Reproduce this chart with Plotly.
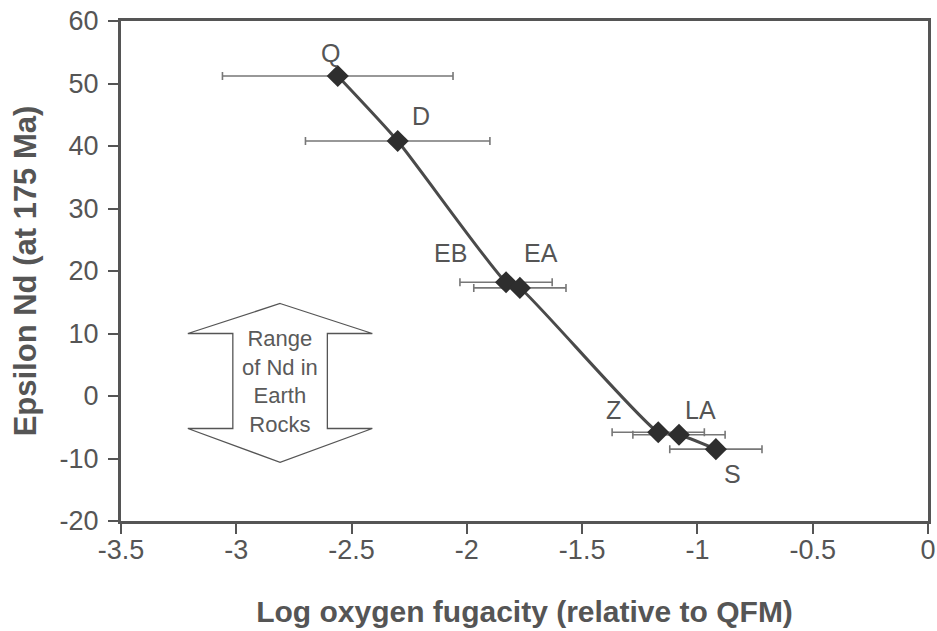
import plotly.graph_objects as go

# Data
labels = ["Q", "D", "EB", "EA", "Z", "LA", "S"]
log_fo2 = [-2.56, -2.30, -1.83, -1.77, -1.17, -1.08, -0.92]
eps_nd = [51.2, 40.8, 18.2, 17.3, -5.8, -6.2, -8.5]
x_err = [0.5, 0.4, 0.2, 0.2, 0.2, 0.2, 0.2]

label_dx = [-0.03, 0.10, -0.24, 0.09, -0.195, 0.095, 0.07]
label_dy = [3.7, 4.0, 4.7, 5.6, 3.5, 3.9, -3.9]

x_ticks = [-3.5, -3, -2.5, -2, -1.5, -1, -0.5, 0]
x_tick_text = ["-3.5", "-3", "-2.5", "-2", "-1.5", "-1", "-0.5", "0"]
y_ticks = [-20, -10, 0, 10, 20, 30, 40, 50, 60]
y_tick_text = ["-20", "-10", "0", "10", "20", "30", "40", "50", "60"]

# Double arrow geometry (data coords)
arrow_cx = -2.81
arrow_half_head = 0.40
arrow_half_body = 0.205
arrow_top, arrow_head_top_base = 14.8, 10.0
arrow_bottom, arrow_head_bot_base = -10.6, -5.2

text_col = "#555555"
FONT = "Liberation Sans, Arial"

fig = go.Figure()

fig.add_trace(go.Scatter(
    x=log_fo2, y=eps_nd, mode="lines",
    line=dict(color="#4a4a4a", width=3, shape="spline", smoothing=0.55),
    hoverinfo="skip", showlegend=False))

fig.add_trace(go.Scatter(
    x=log_fo2, y=eps_nd, mode="markers",
    marker=dict(symbol="diamond", size=17, color="#2e2e2e"),
    error_x=dict(type="data", array=x_err, visible=True, color="#777777",
                 thickness=1.6, width=4),
    showlegend=False))

for lab, x, y, dx, dy in zip(labels, log_fo2, eps_nd, label_dx, label_dy):
    fig.add_annotation(x=x + dx, y=y + dy, text=lab, showarrow=False,
                       font=dict(family=FONT, size=25, color=text_col))

c = arrow_cx
path = (f"M {c},{arrow_top} L {c+arrow_half_head},{arrow_head_top_base} "
        f"L {c+arrow_half_body},{arrow_head_top_base} L {c+arrow_half_body},{arrow_head_bot_base} "
        f"L {c+arrow_half_head},{arrow_head_bot_base} L {c},{arrow_bottom} "
        f"L {c-arrow_half_head},{arrow_head_bot_base} L {c-arrow_half_body},{arrow_head_bot_base} "
        f"L {c-arrow_half_body},{arrow_head_top_base} L {c-arrow_half_head},{arrow_head_top_base} Z")
fig.add_shape(type="path", path=path, xref="x", yref="y",
              line=dict(color="#555555", width=1.3), fillcolor="rgba(0,0,0,0)")
fig.add_annotation(x=c, y=(arrow_head_top_base + arrow_head_bot_base) / 2,
                   text="Range<br>of Nd in<br>Earth<br>Rocks", showarrow=False,
                   font=dict(family=FONT, size=22, color="#5a5a5a"))

axis_common = dict(showline=True, linecolor="#555555", linewidth=3, mirror=True,
                   ticks="outside", tickcolor="#555555", tickwidth=2, ticklen=10,
                   showgrid=False, zeroline=False, automargin=False,
                   tickfont=dict(family=FONT, size=27, color=text_col))

fig.update_xaxes(range=[-3.5, 0], tickvals=x_ticks, ticktext=x_tick_text,
                 ticklabelstandoff=-7,
                 title=dict(text="<b>Log oxygen fugacity (relative to QFM)</b>",
                            font=dict(family=FONT, size=30, color=text_col),
                            standoff=37),
                 **axis_common)
fig.update_yaxes(range=[-20, 60], tickvals=y_ticks, ticktext=y_tick_text,
                 ticklabelstandoff=4,
                 title=dict(text="<b>Epsilon Nd (at 175 Ma)</b>",
                            font=dict(family=FONT, size=31, color=text_col),
                            standoff=14),
                 **axis_common)

fig.update_layout(width=937, height=631, plot_bgcolor="white", paper_bgcolor="white",
                  margin=dict(l=121, r=9, t=21, b=110), showlegend=False)

# remove the default page margin so the 937x631 figure fills the window exactly
fig.write_html("out.html", config={"displayModeBar": False},
               post_script="document.body.style.margin='0';")
